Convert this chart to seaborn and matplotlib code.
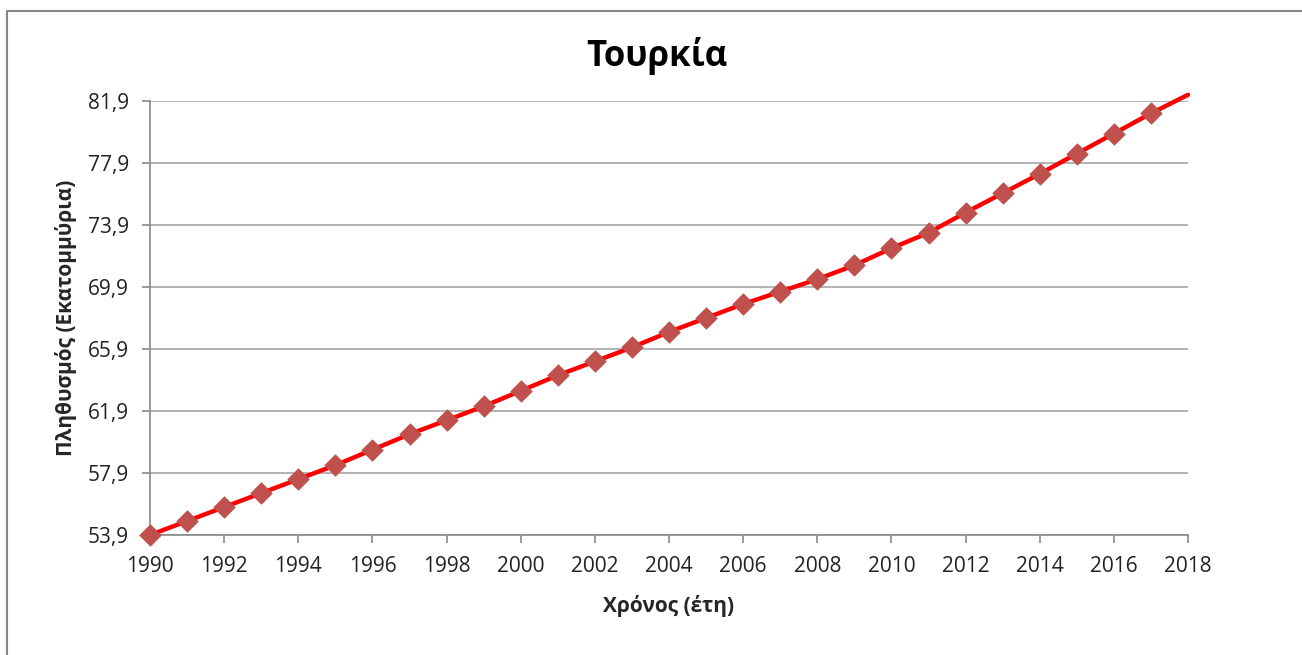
import matplotlib
matplotlib.use('Agg')
import matplotlib.pyplot as plt
import seaborn as sns
import pandas as pd
from matplotlib.lines import Line2D

years = list(range(1990, 2019))
population = [53.9, 54.8, 55.7, 56.6, 57.5, 58.4, 59.4, 60.4, 61.3, 62.2,
              63.2, 64.2, 65.1, 66.0, 67.0, 67.9, 68.8, 69.6, 70.4, 71.3,
              72.4, 73.4, 74.7, 75.95, 77.2, 78.5, 79.8, 81.1, 82.3]
y_ticks = [53.9, 57.9, 61.9, 65.9, 69.9, 73.9, 77.9, 81.9]
y_tick_labels = ['53,9', '57,9', '61,9', '65,9', '69,9', '73,9', '77,9', '81,9']
x_ticks = list(range(1990, 2019, 2))

title = 'Τουρκία'
x_label = 'Χρόνος (έτη)'
y_label = 'Πληθυσμός (Εκατομμύρια)'

sns.set_style('white')
plt.rcParams['font.family'] = ['Open Sans', 'Noto Sans', 'DejaVu Sans']

df = pd.DataFrame({'year': years, 'pop': population})

fig = plt.figure(figsize=(13.02, 6.55), dpi=100)
ax = fig.add_axes([150 / 1302, 1 - 535 / 655, 1038 / 1302, 434 / 655])

sns.lineplot(data=df, x='year', y='pop', color='#FF0000', linewidth=3.2, ax=ax)
for ln in ax.lines:
    ln.set_clip_on(False)
# markers outside the plot area are hidden, as in the original
inside = df[df['pop'] <= y_ticks[-1]]
sns.scatterplot(data=inside, x='year', y='pop', marker='D', s=120, color='#C0504D',
                edgecolor='#C0504D', linewidth=0.5, ax=ax, zorder=3, clip_on=False)

ax.set_xlim(1990, 2018)
ax.set_ylim(y_ticks[0], y_ticks[-1])
ax.set_xticks(x_ticks)
ax.set_yticks(y_ticks)
ax.set_yticklabels(y_tick_labels)
ax.yaxis.grid(True, color='#A6A6A6', linewidth=1.2)
ax.set_axisbelow(True)

for side in ['top', 'right']:
    ax.spines[side].set_visible(False)
for side in ['left', 'bottom']:
    ax.spines[side].set_color('#888888')
    ax.spines[side].set_linewidth(1.2)

ax.tick_params(axis='both', direction='out', length=6, width=1.2, color='#888888',
               labelsize=15, labelcolor='#222222')
ax.tick_params(axis='y', left=True, pad=9)
ax.tick_params(axis='x', bottom=True, pad=9)

ax.set_xlabel(x_label, fontsize=15, fontweight='bold', labelpad=13)
ax.set_ylabel(y_label, fontsize=15, fontweight='bold', labelpad=8)
fig.text(657 / 1302, 1 - 56 / 655, title, fontsize=25, fontweight='bold',
         ha='center', va='center', color='black')

# outer chart frame (only the top and left edges fall inside the picture)
fig.lines.append(Line2D([7 / 1302, 7 / 1302, 1.0], [0.0, 1 - 11 / 655, 1 - 11 / 655],
                        transform=fig.transFigure, color='#868686', linewidth=1.5))

fig.savefig('out.png', dpi=100)
